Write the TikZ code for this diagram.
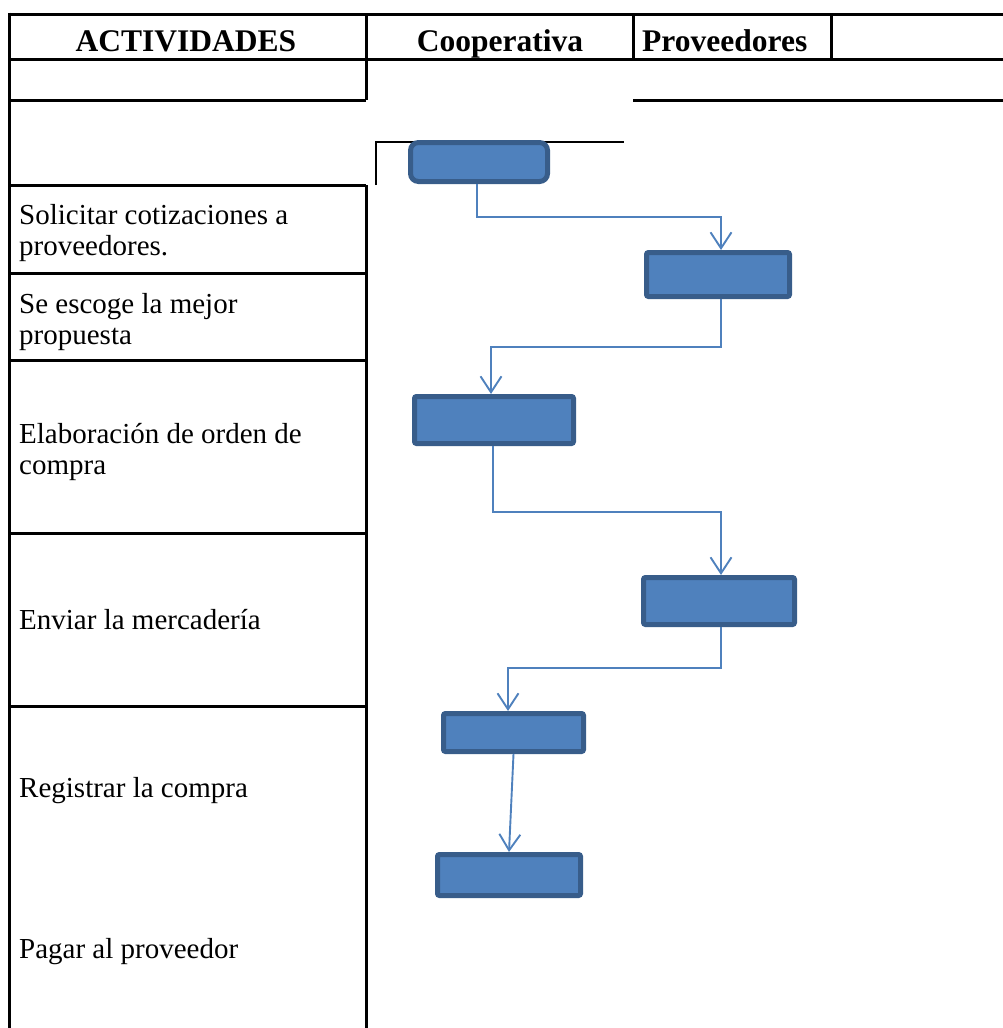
\documentclass[tikz,border=0pt]{standalone}
\usepackage{fontspec}
\setmainfont{Liberation Serif}
\usetikzlibrary{arrows.meta}
\definecolor{boxfill}{HTML}{4F81BD}
\definecolor{boxline}{HTML}{385D8A}
\definecolor{flow}{HTML}{4F81BD}
\begin{document}
\begin{tikzpicture}[x=1pt,y=-1pt,
  rule/.style={line width=3pt,black},
  thinrule/.style={line width=2pt,black},
  hdr/.style={font=\fontsize{31.5}{36}\selectfont\bfseries,inner sep=0pt},
  act/.style={font=\fontsize{29}{31}\selectfont,inner sep=0pt,align=left,anchor=base west},
  taskbox/.style={draw=boxline,fill=boxfill,line width=5pt,rounded corners=2pt,inner sep=0pt},
  arr/.style={draw=flow,line width=1.9pt,-{Straight Barb[length=16pt,width=21pt,line width=1.9pt]}}]
\useasboundingbox (0,0) rectangle (1003,1028);

% table frame
\draw[rule] (9,14) -- (1003,14);
\draw[rule] (9,59) -- (1003,59);
\draw[rule] (9,100) -- (366,100);
\draw[rule] (633,100) -- (1003,100);
\draw[rule] (9,12.5) -- (9,1028);
\draw[rule] (366,14) -- (366,100);
\draw[rule] (633,14) -- (633,59);
\draw[rule] (831,14) -- (831,59);
\draw[rule] (366,185) -- (366,1028);
\foreach \yy in {185,273,360,533,706} \draw[rule] (9,\yy) -- (366,\yy);

% corner mark behind the start box
\draw[thinrule] (376,185) -- (376,142) -- (624,142);

% header
\node[hdr,anchor=base] (hact) at (186,51) {ACTIVIDADES};
\node[hdr,anchor=base] (hcoop) at (500,51) {Cooperativa};
\node[hdr,anchor=base west] (hprov) at (642,51) {Proveedores};

% activities (base anchor sits on the last line)
\node[act] (a1) at (19,255) {Solicitar cotizaciones a\\proveedores.};
\node[act] (a2) at (19,344) {Se escoge la mejor\\propuesta};
\node[act] (a3) at (19,474) {Elaboración de orden de\\compra};
\node[act] (a4) at (19,629) {Enviar la mercadería};
\node[act] (a5) at (19,797) {Registrar la compra};
\node[act] (a6) at (19,958) {Pagar al proveedor};

% flow boxes
\node[taskbox,rounded corners=8pt,minimum width=137pt,minimum height=39pt] (b1) at (479,162) {};
\node[taskbox,minimum width=143pt,minimum height=44pt] (b2) at (718,274.5) {};
\node[taskbox,minimum width=159pt,minimum height=47pt] (b3) at (494,420) {};
\node[taskbox,minimum width=151pt,minimum height=47pt] (b4) at (719,601) {};
\node[taskbox,minimum width=140pt,minimum height=38pt] (b5) at (513.5,732.5) {};
\node[taskbox,minimum width=143pt,minimum height=41pt] (b6) at (509,875) {};

% bend points of the connectors
\coordinate (k1) at (477,217);
\coordinate (k2) at (721,217);
\coordinate (k3) at (721,347);
\coordinate (k4) at (491,347);
\coordinate (k5) at (493,512);
\coordinate (k6) at (721,512);
\coordinate (k7) at (721,668);
\coordinate (k8) at (508,668);

% connectors
\draw[arr] (b1.south -| k1) -- (k1) -- (k2) -- (b2.north -| k2);
\draw[arr] (b2.south -| k3) -- (k3) -- (k4) -- (b3.north -| k4);
\draw[arr] (b3.south -| k5) -- (k5) -- (k6) -- (b4.north -| k6);
\draw[arr] (b4.south -| k7) -- (k7) -- (k8) -- (b5.north -| k8);
\draw[arr] (b5.south) -- (b6.north);
\end{tikzpicture}
\end{document}
